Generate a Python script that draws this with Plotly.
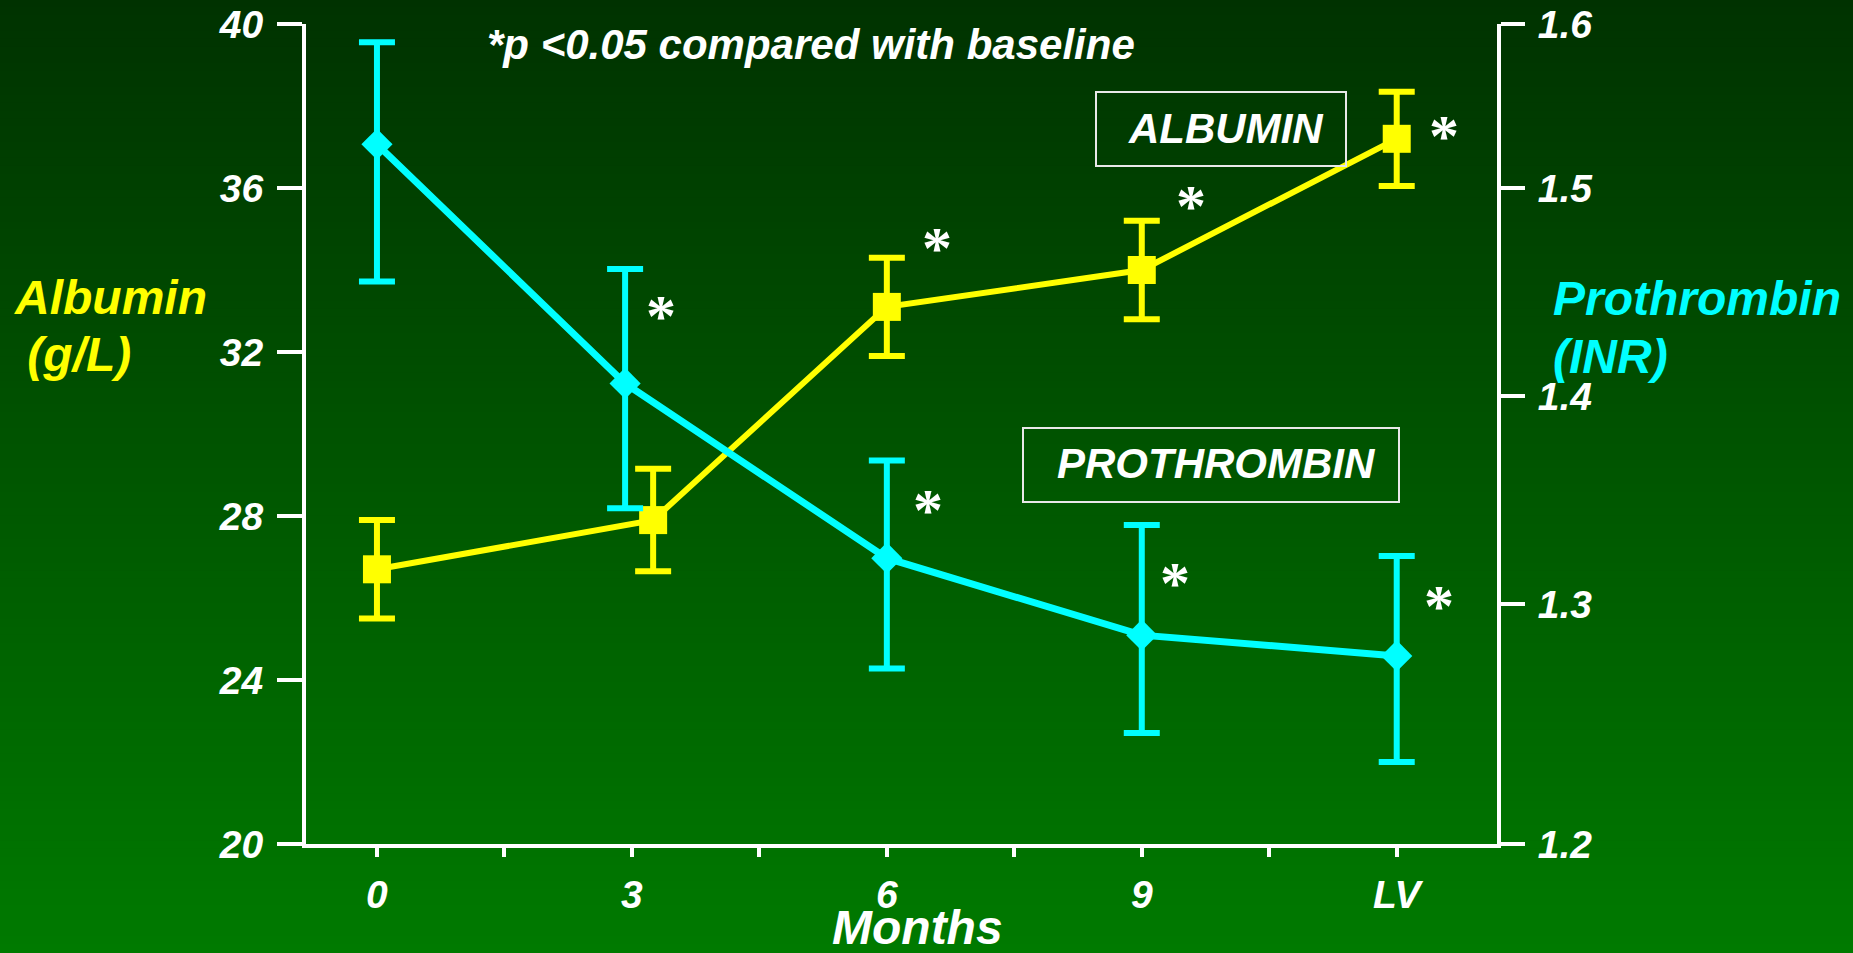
import plotly.graph_objects as go

# ---- data -------------------------------------------------------------
MONTH_TICKS = [0, 1.5, 3, 4.5, 6, 7.5, 9, 10.5, 12]
MONTH_LABELS = ["0", "", "3", "", "6", "", "9", "", "LV"]

ALB_MONTHS = [0, 3.25, 6, 9, 12]
ALBUMIN = [26.7, 27.9, 33.1, 34.0, 37.2]          # g/L
ALBUMIN_SE = [1.2, 1.25, 1.2, 1.2, 1.15]

INR_MONTHS = [0, 2.92, 6, 9, 12]
INR = [1.521, 1.406, 1.322, 1.285, 1.275]
INR_ERR_UP = [0.049, 0.055, 0.047, 0.053, 0.048]
INR_ERR_DOWN = [0.066, 0.060, 0.053, 0.047, 0.051]

ALB_TICKS = [20, 24, 28, 32, 36, 40]
INR_TICK_LABELS = ["1.2", "1.3", "1.4", "1.5", "1.6"]
INR_RANGE = [1.1846, 1.5788]
INR_TICK_VALS = [INR_RANGE[0], 1.3, 1.4, 1.5, INR_RANGE[1]]

# ---- layout geometry (pixels) -------------------------------------------
FIG_W, FIG_H = 1853, 953
L, R, T, B = 306, 356, 24, 109
PW, PH = FIG_W - L - R, FIG_H - T - B

YELLOW = "#FFFF00"
CYAN = "#00FFFF"
WHITE = "#FFFFFF"
FONT = "Liberation Sans, Arial, sans-serif"
TOP_RGB, BOTTOM_RGB = (0, 50, 0), (0, 122, 0)


def px(x, y):
    """Pixel position on the page -> paper coordinates."""
    return (x - L) / PW, 1 - (y - T) / PH


def bold_italic(size, color=WHITE, family=FONT):
    return dict(family=family, size=size, color=color, weight="bold", style="italic")


fig = go.Figure()

fig.add_trace(go.Scatter(
    x=ALB_MONTHS, y=ALBUMIN, mode="lines+markers", name="Albumin",
    line=dict(color=YELLOW, width=6),
    marker=dict(symbol="square", size=28, color=YELLOW),
    error_y=dict(type="data", array=ALBUMIN_SE, color=YELLOW, thickness=6, width=18),
    xaxis="x", yaxis="y", showlegend=False, cliponaxis=False,
))

fig.add_trace(go.Scatter(
    x=INR_MONTHS, y=INR, mode="lines+markers", name="Prothrombin",
    line=dict(color=CYAN, width=7),
    marker=dict(symbol="diamond", size=24, color=CYAN),
    error_y=dict(type="data", symmetric=False, array=INR_ERR_UP, arrayminus=INR_ERR_DOWN,
                 color=CYAN, thickness=6, width=18),
    xaxis="x", yaxis="y2", showlegend=False, cliponaxis=False,
))

# ---- vertical green gradient background ------------------------------------
shapes = []
N = 120
for i in range(N):
    f = (i + 0.5) / N
    col = tuple(round(a + (b - a) * f) for a, b in zip(TOP_RGB, BOTTOM_RGB))
    y0 = FIG_H * i / N - 1
    y1 = FIG_H * (i + 1) / N + 1
    x0p, y0p = px(-2, y0)
    x1p, y1p = px(FIG_W + 2, y1)
    shapes.append(dict(type="rect", xref="paper", yref="paper", x0=x0p, x1=x1p,
                       y0=y1p, y1=y0p, line=dict(width=0),
                       fillcolor="rgb(%d,%d,%d)" % col, layer="below"))

# framed series labels
for (bx0, by0, bx1, by1) in [(1096, 92, 1346, 166), (1023, 428, 1399, 502)]:
    ax0, ay0 = px(bx0, by0)
    ax1, ay1 = px(bx1, by1)
    shapes.append(dict(type="rect", xref="paper", yref="paper", x0=ax0, x1=ax1,
                       y0=ay1, y1=ay0, line=dict(color="#E8E8E8", width=2),
                       fillcolor="rgba(0,0,0,0)", layer="above"))

# ---- text -----------------------------------------------------------------
annotations = []


def note(text, x, y, font, xanchor="center", yanchor="middle", align="center"):
    ax, ay = px(x, y)
    annotations.append(dict(text=text, x=ax, y=ay, xref="paper", yref="paper",
                            xanchor=xanchor, yanchor=yanchor, align=align,
                            showarrow=False, font=font))


note("*p &lt;0.05 compared with baseline", 485, 44, bold_italic(42), xanchor="left")
note("Albumin", 12, 297, bold_italic(48, YELLOW), xanchor="left")
note("&nbsp;(g/L)", 12, 354, bold_italic(48, YELLOW), xanchor="left")
note("Prothrombin", 1551, 298, bold_italic(48, CYAN), xanchor="left")
note("(INR)", 1551, 356, bold_italic(48, CYAN), xanchor="left")
note("Months", 917, 927, bold_italic(48))
note("ALBUMIN", 1226, 128, bold_italic(42))
note("PROTHROMBIN", 1216, 463, bold_italic(42))

# significance markers
for (sx, sy) in [(661, 308), (937, 240), (928, 502), (1191, 198),
                 (1175, 575), (1444, 128), (1439, 598)]:
    note("*", sx, sy + 8, dict(family="Liberation Serif, Times New Roman, serif",
                               size=60, color=WHITE, weight="bold"))

fig.update_layout(
    width=FIG_W, height=FIG_H,
    margin=dict(l=L, r=R, t=T, b=B, pad=0, autoexpand=False),
    paper_bgcolor="rgb(%d,%d,%d)" % TOP_RGB,
    plot_bgcolor="rgba(0,0,0,0)",
    shapes=shapes,
    annotations=annotations,
    xaxis=dict(
        range=[-0.835, 13.18], tickmode="array", tickvals=MONTH_TICKS, ticktext=MONTH_LABELS,
        ticks="outside", ticklen=9, tickwidth=4, tickcolor=WHITE, automargin=False,
        showline=True, linecolor=WHITE, linewidth=4, showgrid=False, zeroline=False,
        tickfont=bold_italic(39), ticklabelstandoff=4,
    ),
    xaxis2=dict(
        range=[-0.835, 13.18], overlaying="x", side="bottom", anchor="y", automargin=False,
        tickmode="array", tickvals=MONTH_TICKS, ticks="inside", ticklen=8, tickwidth=4,
        tickcolor=WHITE, showticklabels=False, showline=False, showgrid=False, zeroline=False,
    ),
    yaxis=dict(
        range=[20, 40], tickmode="array", tickvals=ALB_TICKS, automargin=False,
        ticks="outside", ticklen=25, tickwidth=4, tickcolor=WHITE,
        showline=True, linecolor=WHITE, linewidth=4, showgrid=False, zeroline=False,
        tickfont=bold_italic(39), ticklabelstandoff=6,
    ),
    yaxis2=dict(
        range=INR_RANGE, overlaying="y", side="right", anchor="x", automargin=False,
        tickmode="array", tickvals=INR_TICK_VALS, ticktext=INR_TICK_LABELS,
        ticks="outside", ticklen=24, tickwidth=4, tickcolor=WHITE,
        showline=True, linecolor=WHITE, linewidth=4, showgrid=False, zeroline=False,
        tickfont=bold_italic(39), ticklabelstandoff=5,
    ),
)

fig.write_html("out.html")
